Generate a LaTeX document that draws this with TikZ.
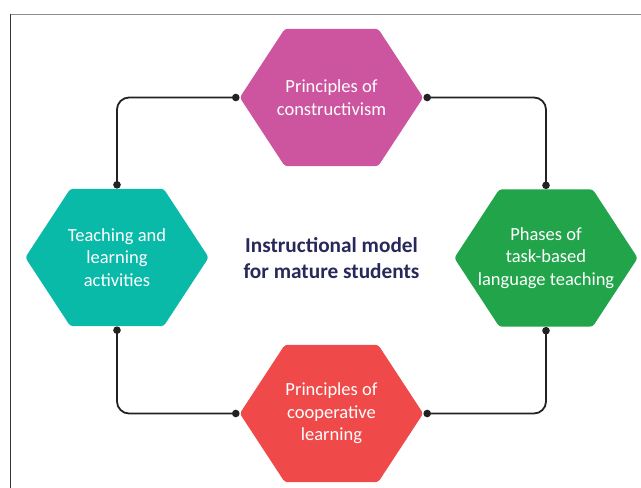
\documentclass[tikz,border=0pt]{standalone}
\usepackage{fontspec}
\setmainfont{Carlito}
\usetikzlibrary{backgrounds}
\definecolor{hpink}{HTML}{CD559F}
\definecolor{hteal}{HTML}{0ABAA9}
\definecolor{hgreen}{HTML}{22A44B}
\definecolor{hred}{HTML}{EF4949}
\definecolor{navy}{HTML}{28285A}
\definecolor{wire}{HTML}{222222}
\tikzset{
  hexbox/.style={minimum width=183pt, minimum height=137pt, inner sep=0pt, align=center,
    text=white, font=\fontsize{18.5}{22.5}\selectfont},
  wirestyle/.style={draw=wire, line width=1.8pt, rounded corners=12pt},
  dotstyle/.style={fill=wire},
}
\newcommand{\hexfill}[2]{%
  \fill[#2, rounded corners=3pt] (#1.west) -- ([xshift=45pt]#1.north west) -- ([xshift=-45pt]#1.north east)
    -- (#1.east) -- ([xshift=-45pt]#1.south east) -- ([xshift=45pt]#1.south west) -- cycle;}
\begin{document}
\begin{tikzpicture}[x=1pt,y=-1pt]
\useasboundingbox (0,0) rectangle (641,488);
\draw[draw=gray!90, line width=1pt] (10.5,14) -- (641,14);
\draw[draw=black!80, line width=1pt] (10.5,14) -- (10.5,488);

\node[hexbox] (pc) at (331.5,97.5) {Principles of\\constructivism};
\node[hexbox] (tl) at (117,257.5) {Teaching and\\learning\\activities};
\node[hexbox] (ph) at (546,258) {Phases of\\task-based\\language teaching};
\node[hexbox] (co) at (331.5,413.5) {Principles of\\cooperative\\learning};
\node[text=navy, font=\fontsize{21.3}{26}\selectfont\bfseries, align=center] (title) at (331.5,258) {Instructional model\\for mature students};

\begin{scope}[on background layer]
\fill[white] (0,0) rectangle (641,488);
\hexfill{pc}{hpink}
\hexfill{tl}{hteal}
\hexfill{ph}{hgreen}
\hexfill{co}{hred}
\end{scope}

\coordinate (pcw) at ([xshift=-4pt]pc.west);
\coordinate (pce) at ([xshift=4pt]pc.east);
\coordinate (cow) at ([xshift=-4pt]co.west);
\coordinate (coe) at ([xshift=4pt]co.east);
\coordinate (tln) at ([yshift=4pt]tl.north);
\coordinate (tls) at ([yshift=-4pt]tl.south);
\coordinate (phn) at ([yshift=4pt]ph.north);
\coordinate (phs) at ([yshift=-4pt]ph.south);

\draw[wirestyle] (pcw) -| (tln);
\draw[wirestyle] (pce) -| (phn);
\draw[wirestyle] (cow) -| (tls);
\draw[wirestyle] (coe) -| (phs);

\foreach \p in {pcw,pce,cow,coe,tln,tls,phn,phs}
  \fill[dotstyle] (\p) circle (3.8pt);
\end{tikzpicture}
\end{document}
